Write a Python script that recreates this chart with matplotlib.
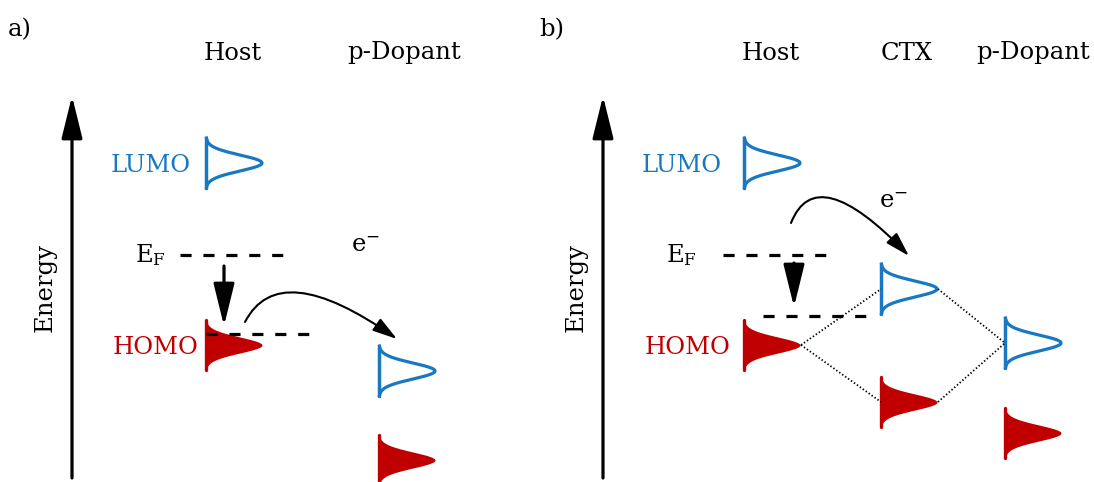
import numpy as np
import matplotlib.pyplot as plt
from matplotlib.patches import FancyArrowPatch
from matplotlib.path import Path

plt.rcParams['font.family'] = ['DejaVu Serif']
plt.rcParams['mathtext.fontset'] = 'dejavuserif'
plt.rcParams['lines.scale_dashes'] = False

BLUE = '#1878c2'
RED = '#c00000'

# density of states peaks: x of baseline, centre y, filled (occupied) or not
peak_x = [206, 206, 379, 379, 744, 744, 881, 881, 1005, 1005]
peak_y = [163, 345, 371, 460, 163, 345, 289, 402, 343, 433]
peak_filled = [False, True, False, True, False, True, False, True, False, True]

# column headers
col_labels = ['Host', 'p-Dopant', 'Host', 'CTX', 'p-Dopant']
col_x = [233, 404, 771, 907, 1033]

# dashed Fermi-level lines (x start, x end, y)
dash_x0 = [180, 206, 723, 763]
dash_x1 = [285, 312, 828, 869]
dash_y = [255, 334, 255, 316]

# dotted hybridisation lines in panel b
dot_start = [(801, 345), (801, 345), (938, 289), (938, 402)]
dot_end = [(881, 289), (881, 402), (1005, 343), (1005, 343)]

# panel offsets
panel_dx = [0, 531]
panel_tag = ['a)', 'b)']

fig = plt.figure(figsize=(10.94, 4.82), dpi=100)
ax = fig.add_axes([0, 0, 1, 1])
ax.set_xlim(0, 1094)
ax.set_ylim(482, 0)
ax.axis('off')

half_h = 25
width = 56
sigma = 8.0
for x0, yc, filled in zip(peak_x, peak_y, peak_filled):
    yy = np.linspace(yc - half_h, yc + half_h, 200)
    xx = x0 + width * np.exp(-(yy - yc) ** 2 / (2 * sigma ** 2))
    if filled:
        ax.fill_betweenx(yy, x0, xx, color=RED, lw=0)
        ax.plot([x0, x0], [yc - half_h, yc + half_h], color=RED, lw=2.4,
                solid_capstyle='round')
    else:
        ax.plot(xx, yy, color=BLUE, lw=2.3)
        ax.plot([x0, x0], [yc - half_h, yc + half_h], color=BLUE, lw=2.5,
                solid_capstyle='round')

for x0, x1, y in zip(dash_x0, dash_x1, dash_y):
    ax.plot([x0, x1], [y, y], color='black', lw=2.3, dashes=(8, 8.5))

for p0, p1 in zip(dot_start, dot_end):
    ax.plot([p0[0], p1[0]], [p0[1], p1[1]], color='black', lw=1.3,
            linestyle=(0, (1, 1.6)))

fs = 17.5
for lab, x in zip(col_labels, col_x):
    ax.text(x, 53, lab, ha='center', va='center', fontsize=fs)

straight_head = '-|>,head_length=1.3,head_width=0.32'
for dx, tag in zip(panel_dx, panel_tag):
    ax.text(8 + dx, 30, tag, ha='left', va='center', fontsize=fs)
    # energy axis
    ax.add_patch(FancyArrowPatch((72 + dx, 478), (72 + dx, 96),
                                 arrowstyle=straight_head,
                                 mutation_scale=20, lw=2.3, color='black',
                                 shrinkA=0, shrinkB=0))
    ax.text(45 + dx, 287, 'Energy', rotation=90, ha='center', va='center',
            fontsize=fs)
    ax.text(191 + dx, 165, 'LUMO', color=BLUE, ha='right', va='center',
            fontsize=fs)
    ax.text(199 + dx, 347, 'HOMO', color=RED, ha='right', va='center',
            fontsize=fs)
    ax.text(150 + dx, 255, r'$\mathrm{E_F}$', ha='center', va='center',
            fontsize=fs)

# Fermi level shift arrows
ax.add_patch(FancyArrowPatch((224, 266), (224, 326),
                             arrowstyle=straight_head,
                             mutation_scale=20, lw=2.3, color='black',
                             shrinkA=0, shrinkB=0))
ax.add_patch(FancyArrowPatch((794, 263), (794, 307),
                             arrowstyle=straight_head,
                             mutation_scale=20, lw=2.3, color='black',
                             shrinkA=0, shrinkB=0))

# electron transfer arcs
arc_pts = [[(245, 322), (279, 256), (397, 339)],
           [(791, 223), (816, 159), (909, 256)]]
for pts in arc_pts:
    path = Path(pts, [Path.MOVETO, Path.CURVE3, Path.CURVE3])
    ax.add_patch(FancyArrowPatch(path=path,
                                 arrowstyle='-|>,head_length=0.75,head_width=0.22',
                                 mutation_scale=20, lw=1.5, color='black'))

ax.text(365, 245, r'$\mathrm{e^{-}}$', ha='center', va='center', fontsize=fs)
ax.text(893, 202, r'$\mathrm{e^{-}}$', ha='center', va='center', fontsize=fs)

fig.savefig('out.png', dpi=100)
